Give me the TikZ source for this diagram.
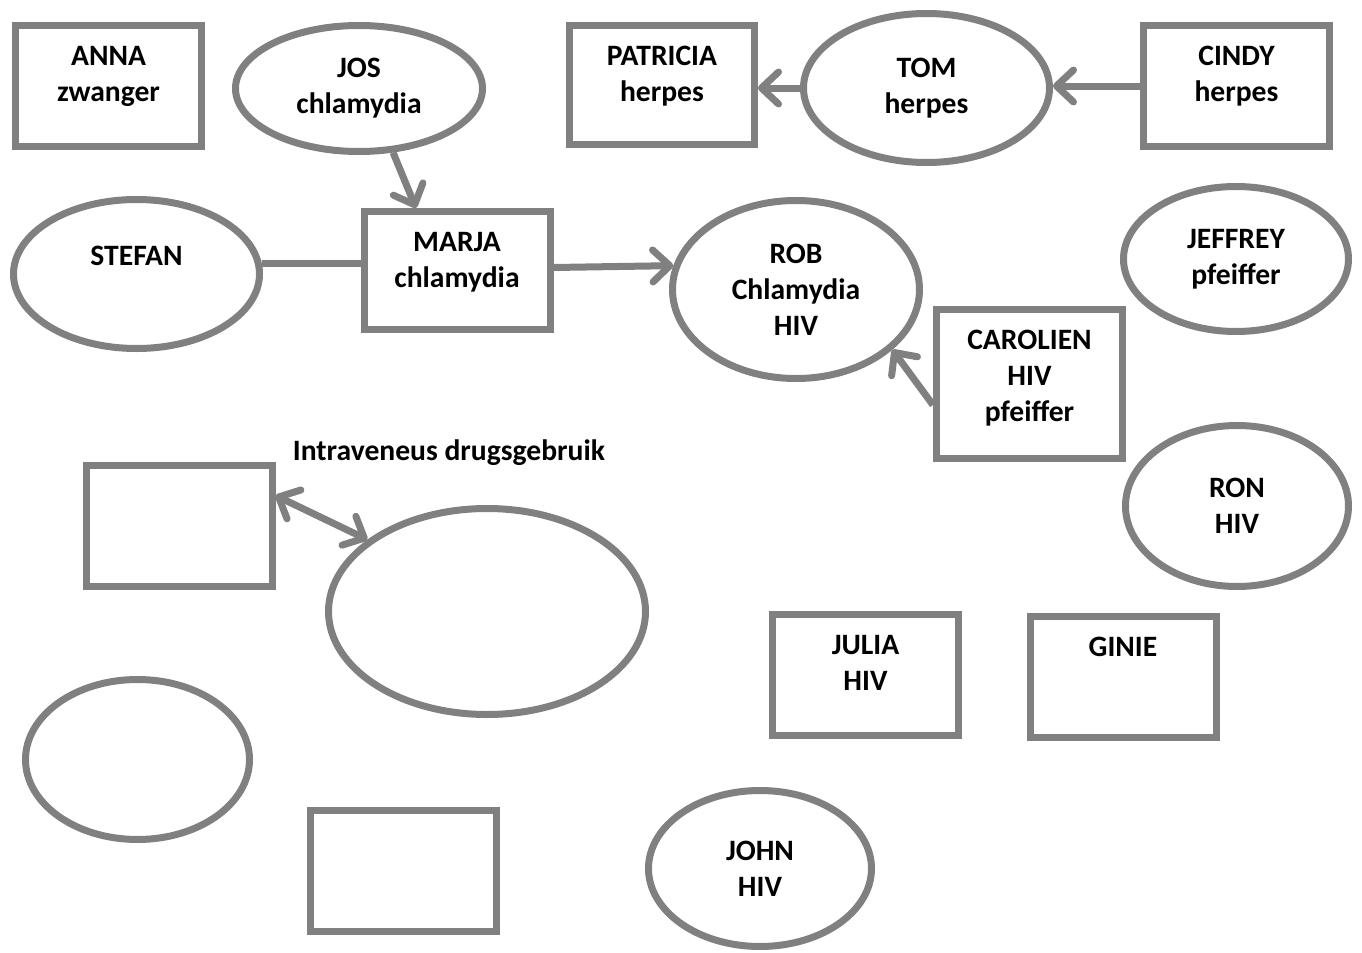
\documentclass[tikz,border=0pt]{standalone}
\usepackage{fontspec}
\setmainfont{Carlito}
\usetikzlibrary{shapes.geometric,arrows.meta,positioning}
\definecolor{lijn}{RGB}{128,128,128}
\definecolor{tekst}{RGB}{0,0,0}
\tikzset{
  pbox/.style={rectangle,draw=lijn,line width=3.5pt,fill=white,
    minimum width=93pt,minimum height=60.5pt,inner sep=0pt,
    label={[lbl,anchor=north,yshift=-12pt]north:#1}},
  pbox/.default={},
  pell/.style={ellipse,draw=lijn,line width=3.5pt,fill=white,
    inner sep=0pt,font=\bfseries\fontsize{14.8pt}{18pt}\selectfont,
    align=center,text=tekst},
  lbl/.style={font=\bfseries\fontsize{14.8pt}{18pt}\selectfont,
    align=center,text=tekst,inner sep=0pt},
  tip/.style={Straight Barb[round,length=8.5pt,width=16pt]},
  arr/.style={-{Straight Barb[round,length=8.5pt,width=16pt]},
    draw=lijn,line width=3.5pt},
  darr/.style={{Straight Barb[round,length=8.5pt,width=16pt]}-{Straight Barb[round,length=8.5pt,width=16pt]},
    draw=lijn,line width=3.5pt},
  lijnstuk/.style={draw=lijn,line width=3.5pt},
}
\begin{document}
\begin{tikzpicture}[x=0.5pt,y=-0.5pt]
  \useasboundingbox (0,0) rectangle (1362,953);

  %% Row 1
  \node[pbox={ANNA\\zwanger}] (anna) at (108.5,86) {};
  \node[pell,minimum width=123.5pt,minimum height=63pt] (jos) at (359,88.5) {JOS\\chlamydia};
  \node[pbox={PATRICIA\\herpes},minimum width=92.5pt,minimum height=59.5pt] (patricia) at (662,85) {};
  \node[pell,minimum width=123pt,minimum height=74.5pt] (tom) at (926.5,88) {TOM\\herpes};
  \node[pbox={CINDY\\herpes}] (cindy) at (1236.5,86) {};

  %% Row 2
  \node[pell,minimum width=123pt,minimum height=74.5pt] (stefan) at (136.5,274) {STEFAN\\\mbox{}};
  \node[pbox={MARJA\\chlamydia},minimum height=59pt] (marja) at (457,270.5) {};
  \node[pell,minimum width=123.5pt,minimum height=89pt] (rob) at (796,289.5) {ROB\\Chlamydia\\HIV};
  \node[pell,minimum width=112.5pt,minimum height=72.5pt] (jeffrey) at (1236,259) {JEFFREY\\pfeiffer};
  \node[pbox={CAROLIEN\\HIV\\pfeiffer},minimum height=74.5pt] (carolien) at (1029.5,384) {};
  \node[pell,minimum width=111.5pt,minimum height=80.5pt] (ron) at (1237,506) {RON\\HIV};

  %% Lower half
  \node[lbl] (drugs) at (449,453) {Intraveneus drugsgebruik};
  \node[pbox] (leeg1) at (179,525.5) {};
  \node[pell,minimum width=158.5pt,minimum height=103pt] (groot) at (487,611.5) {};
  \node[pbox={JULIA\\HIV}] (julia) at (865.5,674.5) {};
  \node[pbox={GINIE}] (ginie) at (1123,676.5) {};
  \node[pell,minimum width=112pt,minimum height=80pt] (leeg2) at (137.5,759.5) {};
  \node[pbox] (leeg3) at (403.5,871) {};
  \node[pell,minimum width=111.5pt,minimum height=78pt] (john) at (760,868.5) {JOHN\\HIV};

  %% Connectors
  \draw[arr] (tom.west) -- (tom.west -| patricia.east);
  \draw[arr] (cindy.west) -- (cindy.west -| tom.east);
  \draw[arr] (jos.-62) -- ([xshift=-20.5pt]marja.north);
  \draw[lijnstuk] (stefan.5) -- (stefan.5 -| marja.west);
  \draw[arr] ([yshift=1.5pt]marja.east) -- (rob.169);
  \draw[arr] ([yshift=-10.5pt]carolien.west) -- (rob.-32);
  \draw[darr] ([yshift=15pt]leeg1.east) -- (groot.149.5);

\end{tikzpicture}
\end{document}
